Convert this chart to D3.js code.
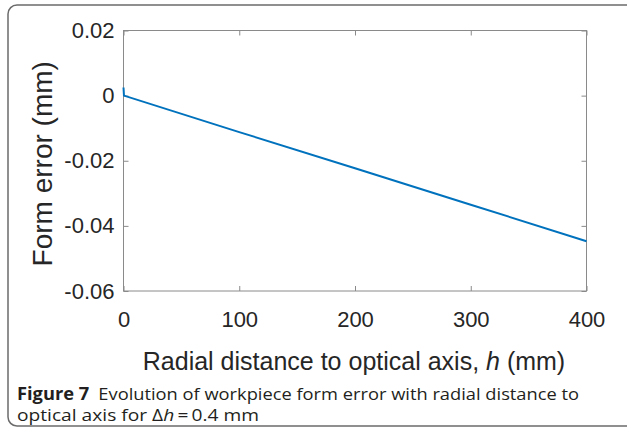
<!DOCTYPE html>
<html>
<head>
<meta charset="utf-8">
<script src="https://cdn.jsdelivr.net/npm/d3@7"></script>
<style>
  html, body { margin: 0; padding: 0; background: #fff; }
  svg { display: block; }
</style>
</head>
<body>
<svg id="fig" width="627" height="429"></svg>
<script>
// Radial distance h (mm) and the resulting form error (mm)
const radialDistance = [0, 0.4, 100, 200, 300, 400];
const formError = [0.0025, 0, -0.0112, -0.0223, -0.0335, -0.0447];

const xTicks = [0, 100, 200, 300, 400];
const yTicks = [0.02, 0, -0.02, -0.04, -0.06];
const yTickLabels = ["0.02", "0", "-0.02", "-0.04", "-0.06"];

const svg = d3.select("#fig");

// outer rounded frame of the figure panel
svg.append("rect")
  .attr("x", 8).attr("y", 5)
  .attr("width", 628).attr("height", 421)
  .attr("rx", 9).attr("ry", 9)
  .attr("fill", "none")
  .attr("stroke", "#6b6b6b")
  .attr("stroke-width", 1.5);

const plot = { left: 123.5, right: 586.5, top: 30.5, bottom: 291 };

const x = d3.scaleLinear().domain([0, 400]).range([plot.left, plot.right]);
const y = d3.scaleLinear().domain([-0.06, 0.02]).range([plot.bottom, plot.top]);

const axisColor = "#8a8a8a";
const labelColor = "#262626";
const tickFont = "Liberation Sans, Arial, Helvetica, sans-serif";

function styleAxis(g, showLabels) {
  g.select(".domain").remove();
  g.selectAll(".tick line").attr("stroke", axisColor).attr("stroke-width", 1);
  g.selectAll(".tick text")
    .attr("fill", labelColor)
    .attr("font-family", tickFont)
    .attr("font-size", 22)
    .style("display", showLabels ? null : "none");
}

// bottom axis with labels, ticks pointing inward
svg.append("g")
  .attr("transform", `translate(0,${plot.bottom})`)
  .call(d3.axisBottom(x).tickValues(xTicks).tickSize(-5).tickPadding(20).tickFormat(d3.format("d")))
  .call(g => styleAxis(g, true));

// top axis, ticks only
svg.append("g")
  .attr("transform", `translate(0,${plot.top})`)
  .call(d3.axisTop(x).tickValues(xTicks).tickSize(-5))
  .call(g => styleAxis(g, false));

// left axis with labels
svg.append("g")
  .attr("transform", `translate(${plot.left},0)`)
  .call(d3.axisLeft(y).tickValues(yTicks).tickSize(-5).tickPadding(9)
    .tickFormat((d, i) => yTickLabels[i]))
  .call(g => styleAxis(g, true));

// right axis, ticks only
svg.append("g")
  .attr("transform", `translate(${plot.right},0)`)
  .call(d3.axisRight(y).tickValues(yTicks).tickSize(-5))
  .call(g => styleAxis(g, false));

// axes box
svg.append("rect")
  .attr("x", plot.left).attr("y", plot.top)
  .attr("width", plot.right - plot.left)
  .attr("height", plot.bottom - plot.top)
  .attr("fill", "none")
  .attr("stroke", axisColor)
  .attr("stroke-width", 1);

// form error curve
const line = d3.line()
  .x((d, i) => x(radialDistance[i]))
  .y(d => y(d));

svg.append("path")
  .datum(formError)
  .attr("d", line)
  .attr("fill", "none")
  .attr("stroke", "#0072BD")
  .attr("stroke-width", 2);

// axis titles
svg.append("text")
  .attr("x", (plot.left + plot.right) / 2 - 1)
  .attr("y", 370)
  .attr("text-anchor", "middle")
  .attr("font-family", tickFont)
  .attr("font-size", 25)
  .attr("fill", labelColor)
  .call(t => {
    t.append("tspan").text("Radial distance to optical axis, ");
    t.append("tspan").attr("font-style", "italic").text("h");
    t.append("tspan").text(" (mm)");
  });

svg.append("text")
  .attr("transform", `translate(52,${(plot.top + plot.bottom) / 2 + 3}) rotate(-90)`)
  .attr("text-anchor", "middle")
  .attr("font-family", tickFont)
  .attr("font-size", 28)
  .attr("fill", labelColor)
  .text("Form error (mm)");

// figure caption
const capFont = "'Open Sans', 'Noto Sans', sans-serif";
const cap1 = svg.append("text")
  .attr("x", 17).attr("y", 400)
  .attr("font-family", capFont)
  .attr("font-size", 17)
  .attr("fill", "#231f20")
  .attr("textLength", 562)
  .attr("lengthAdjust", "spacingAndGlyphs");
cap1.append("tspan").attr("font-weight", "bold").text("Figure 7");
cap1.append("tspan").text("\u2002Evolution of workpiece form error with radial distance to");

const cap2 = svg.append("text")
  .attr("x", 17).attr("y", 421)
  .attr("font-family", capFont)
  .attr("font-size", 17)
  .attr("fill", "#231f20")
  .attr("textLength", 242)
  .attr("lengthAdjust", "spacingAndGlyphs");
cap2.append("tspan").text("optical axis for \u0394");
cap2.append("tspan").attr("font-style", "italic").text("h");
cap2.append("tspan").text("\u2009=\u20090.4 mm");
</script>
</body>
</html>
